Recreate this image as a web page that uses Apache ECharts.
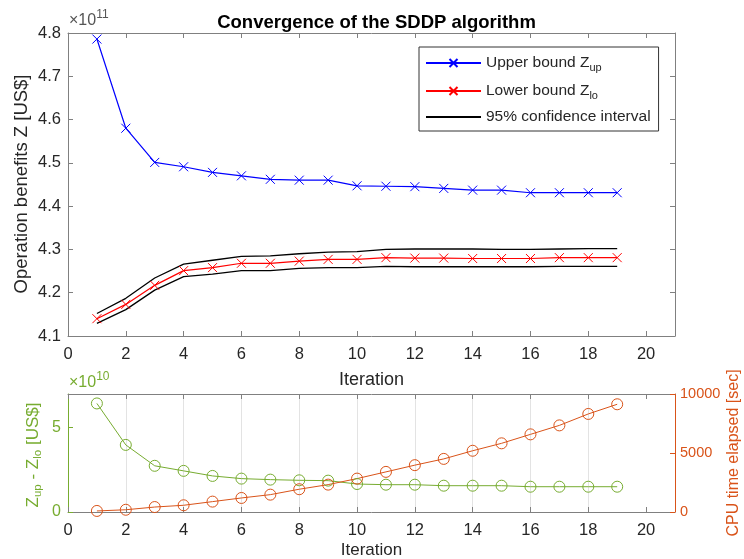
<!DOCTYPE html>
<html><head><meta charset="utf-8">
<script src="https://cdn.jsdelivr.net/npm/echarts@6/dist/echarts.min.js"></script>
<style>html,body{margin:0;padding:0;background:#fff}#c{width:744px;height:559px}</style>
</head><body><div id="c"></div>
<script>
const iterations = [1,2,3,4,5,6,7,8,9,10,11,12,13,14,15,16,17,18,19];
// Operation benefits, in units of 1e11 US$
const upperBound = [4.786,4.580,4.501,4.491,4.478,4.470,4.462,4.460,4.460,4.447,4.446,4.445,4.441,4.437,4.437,4.431,4.431,4.431,4.431];
const lowerBound = [4.140,4.173,4.217,4.251,4.258,4.268,4.268,4.273,4.277,4.277,4.281,4.280,4.280,4.279,4.279,4.279,4.281,4.281,4.281];
const ciUpper = [4.152,4.187,4.234,4.266,4.275,4.284,4.285,4.290,4.294,4.295,4.300,4.301,4.301,4.301,4.300,4.300,4.301,4.302,4.302];
const ciLower = [4.129,4.161,4.206,4.237,4.243,4.251,4.251,4.256,4.258,4.258,4.261,4.260,4.260,4.260,4.260,4.260,4.261,4.261,4.261];
// Gap Zup - Zlo, in units of 1e10 US$
const gapValues = [6.44,3.98,2.74,2.44,2.14,1.98,1.92,1.88,1.86,1.66,1.62,1.62,1.56,1.56,1.56,1.50,1.50,1.50,1.50];
// CPU time elapsed [sec]
const cpuTime = [90,190,420,570,880,1190,1470,1930,2320,2830,3400,3970,4500,5190,5820,6580,7340,8310,9130];

const xTicks = [0,2,4,6,8,10,12,14,16,18,20];
const topYTicks = [4.1,4.2,4.3,4.4,4.5,4.6,4.7,4.8];
const gapTicks = [0,5];
const cpuTicks = [0,5000,10000];

const pair = (ys) => iterations.map((x,i)=>[x, ys[i]]);
const FONT = '"Liberation Sans", Arial, Helvetica, sans-serif';
const TXT = '#262626';
const BOX = '#808080';
const GREEN = '#77AC30';
const ORANGE = '#D95319';
const xMark = 'path://M0,0L10,10M10,0L0,10';

const chart = echarts.init(document.getElementById('c'), null, {renderer:'canvas'});

function xAx(gridIndex, pos, labels, split, nameSize) {
  return {
    type:'value', gridIndex, position: pos, min:0, max:21,
    axisLine:{show:true, onZero:false, lineStyle:{color:BOX, width:1}},
    axisTick:{show:true, inside:true, length:5, customValues:xTicks, lineStyle:{color:BOX}},
    axisLabel:{show:labels, customValues:xTicks, fontFamily:FONT, fontSize:16.5, color:TXT, margin:10},
    splitLine:{show:split, lineStyle:{color:'#e3e3e3'}, showMinLine:false, showMaxLine:false},
    name: labels ? 'Iteration' : '', nameLocation:'middle', nameGap:gridIndex===0 ? 35 : 30,
    nameTextStyle:{fontFamily:FONT, fontSize:nameSize || 17, color:TXT}
  };
}

function yAx(gridIndex, pos, min, max, ticks, color, labelOpt, split) {
  return {
    type:'value', gridIndex, position:pos, min, max,
    axisLine:{show:true, onZero:false, lineStyle:{color}},
    axisTick:{show:true, inside:true, length:5, customValues:ticks, lineStyle:{color}},
    axisLabel: labelOpt ? Object.assign({customValues:ticks, fontFamily:FONT}, labelOpt) : {show:false},
    splitLine: split ? {show:true, lineStyle:{color:'#e3e3e3'}, showMinLine:false, showMaxLine:false} : {show:false}
  };
}

const option = {
  animation:false,
  backgroundColor:'#fff',
  title:{
    text:'Convergence of the SDDP algorithm', left:371.5, textAlign:'center', top:8,
    textStyle:{fontFamily:FONT, fontSize:18.5, fontWeight:'bold', color:'#000'}
  },
  grid:[
    {left:68, right:69, top:33, bottom:223, containLabel:false, outerBoundsMode:'none'},
    {left:68, right:69, top:394, bottom:47, containLabel:false, outerBoundsMode:'none'}
  ],
  legend:{
    left:419, top:47, orient:'vertical', itemWidth:55, itemHeight:10, itemGap:8,
    padding:[6,8,6,6], borderColor:'#333', borderWidth:1, backgroundColor:'#fff',
    data:['Upper bound','Lower bound',{name:'95% confidence interval', itemStyle:{opacity:0}}],
    formatter: function(n){
      if(n==='Upper bound') return '{a|Upper bound Z}{s|up}';
      if(n==='Lower bound') return '{a|Lower bound Z}{s|lo}';
      return '{a|' + n + '}';
    },
    textStyle:{fontFamily:FONT, color:TXT,
      rich:{a:{fontFamily:FONT, fontSize:15.5, color:TXT, lineHeight:20},
            s:{fontFamily:FONT, fontSize:11, color:TXT, lineHeight:20, padding:[9,0,0,0]}}}
  },
  xAxis:[
    xAx(0,'bottom',true,false,18),
    xAx(0,'top',false,false),
    xAx(1,'bottom',true,true,17),
    xAx(1,'top',false,false)
  ],
  yAxis:[
    yAx(0,'left',4.1,4.8,topYTicks,BOX,{fontSize:16.5, color:TXT, margin:7, formatter:v=>v.toFixed(1)},false),
    yAx(0,'right',4.1,4.8,topYTicks,BOX,null,false),
    yAx(1,'left',0,7,gapTicks,GREEN,{fontSize:16, color:GREEN, margin:7},true),
    yAx(1,'right',0,10000,cpuTicks,ORANGE,{fontSize:14.5, color:ORANGE, margin:5, formatter:v=>String(v)},false)
  ],
  series:[
    {name:'Upper bound', type:'line', xAxisIndex:0, yAxisIndex:0, data:pair(upperBound),
     symbol:xMark, symbolSize:9, showSymbol:true,
     lineStyle:{color:'#0000FF', width:1.2}, itemStyle:{color:'#0000FF', borderColor:'#0000FF', borderWidth:1}},
    {name:'Lower bound', type:'line', xAxisIndex:0, yAxisIndex:0, data:pair(lowerBound),
     symbol:xMark, symbolSize:9, showSymbol:true,
     lineStyle:{color:'#FF0000', width:1.2}, itemStyle:{color:'#FF0000', borderColor:'#FF0000', borderWidth:1}},
    {name:'95% confidence interval', type:'line', xAxisIndex:0, yAxisIndex:0, data:pair(ciUpper),
     symbol:'none', lineStyle:{color:'#000', width:1.3}, itemStyle:{color:'#000'}},
    {name:'95% confidence interval', type:'line', xAxisIndex:0, yAxisIndex:0, data:pair(ciLower),
     symbol:'none', lineStyle:{color:'#000', width:1.3}, itemStyle:{color:'#000'}},
    {name:'gap', type:'line', xAxisIndex:2, yAxisIndex:2, data:pair(gapValues),
     symbol:'circle', symbolSize:11, showSymbol:true,
     lineStyle:{color:GREEN, width:1}, itemStyle:{color:'rgba(0,0,0,0)', borderColor:GREEN, borderWidth:1}},
    {name:'cpu', type:'line', xAxisIndex:2, yAxisIndex:3, data:pair(cpuTime),
     symbol:'circle', symbolSize:11, showSymbol:true,
     lineStyle:{color:ORANGE, width:1}, itemStyle:{color:'rgba(0,0,0,0)', borderColor:ORANGE, borderWidth:1}}
  ],
  graphic:[
    {type:'text', left:69, top:9, style:{text:'{a|×10}{s|11}', fill:TXT,
      rich:{a:{fontFamily:FONT, fontSize:16, fill:'#555', padding:[4,0,0,0]}, s:{fontFamily:FONT, fontSize:12, fill:'#555', verticalAlign:'top'}}}},
    {type:'text', left:69, top:371, style:{text:'{a|×10}{s|10}', fill:GREEN,
      rich:{a:{fontFamily:FONT, fontSize:16, fill:GREEN, padding:[4,0,0,0]}, s:{fontFamily:FONT, fontSize:12, fill:GREEN, verticalAlign:'top'}}}},
    {type:'text', x:21.5, y:184, rotation:Math.PI/2,
     style:{text:'Operation benefits Z [US$]', align:'center', verticalAlign:'middle', fill:TXT,
      fontFamily:FONT, fontSize:18.5}},
    {type:'text', x:33, y:455, rotation:Math.PI/2,
     style:{text:'{a|Z}{s|up}{a| - Z}{s|lo}{a| [US$]}', align:'center', verticalAlign:'middle', fill:GREEN,
      rich:{a:{fontFamily:FONT, fontSize:17, fill:GREEN, lineHeight:20},
            s:{fontFamily:FONT, fontSize:11.5, fill:GREEN, lineHeight:20, padding:[9,0,0,0]}}}},
    {type:'text', x:733.5, y:453, rotation:Math.PI/2,
     style:{text:'CPU time elapsed [sec]', align:'center', verticalAlign:'middle', fill:ORANGE,
      fontFamily:FONT, fontSize:16}}
  ]
};
chart.setOption(option);
</script>
</body></html>
